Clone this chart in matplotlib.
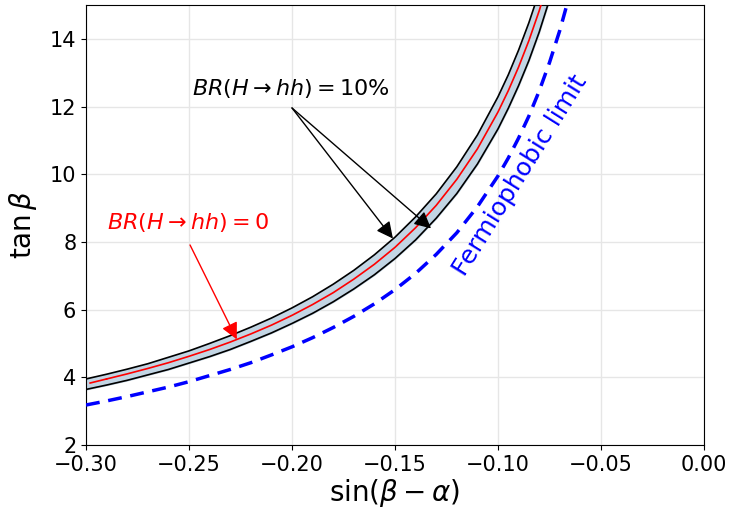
import matplotlib
matplotlib.use('Agg')
import numpy as np
import matplotlib.pyplot as plt

# values
sba = [-0.30, -0.29, -0.28, -0.27, -0.26, -0.25, -0.24, -0.23, -0.22, -0.21,
       -0.20, -0.19, -0.18, -0.17, -0.16, -0.15, -0.14, -0.13, -0.12, -0.11,
       -0.10, -0.095, -0.09, -0.085, -0.08, -0.075, -0.07]

br0 = [3.81, 3.95, 4.10, 4.26, 4.43, 4.62, 4.82, 5.04, 5.28, 5.54,
       5.83, 6.15, 6.50, 6.90, 7.34, 7.84, 8.42, 9.08, 9.85, 10.75,
       11.84, 12.47, 13.17, 13.95, 14.83, 15.82, 16.96]

br10_hi = [3.95, 4.09, 4.24, 4.40, 4.59, 4.78, 5.00, 5.23, 5.48, 5.75,
           6.05, 6.38, 6.75, 7.16, 7.62, 8.14, 8.74, 9.42, 10.22, 11.16,
           12.29, 12.94, 13.67, 14.48, 15.39, 16.42, 17.60]

br10_lo = [3.64, 3.77, 3.91, 4.07, 4.23, 4.42, 4.61, 4.82, 5.06, 5.31,
           5.59, 5.89, 6.23, 6.61, 7.03, 7.51, 8.06, 8.70, 9.43, 10.30,
           11.34, 11.95, 12.62, 13.36, 14.20, 15.16, 16.25]

sba_fp = [-0.30, -0.29, -0.28, -0.27, -0.26, -0.25, -0.24, -0.23, -0.22, -0.21,
          -0.20, -0.19, -0.18, -0.17, -0.16, -0.15, -0.14, -0.13, -0.12, -0.11,
          -0.10, -0.095, -0.09, -0.085, -0.08, -0.075, -0.07, -0.065, -0.06]
tb_fp = [3.18, 3.30, 3.43, 3.57, 3.71, 3.87, 4.05, 4.23, 4.43, 4.66,
         4.90, 5.17, 5.47, 5.80, 6.17, 6.59, 7.07, 7.63, 8.27, 9.04,
         9.95, 10.48, 11.07, 11.72, 12.46, 13.30, 14.25, 15.35, 16.64]

fig = plt.figure(figsize=(7.32, 5.12), dpi=100)
ax = fig.add_axes([0.1175, 0.131, 0.8442, 0.859])

ax.fill_between(sba, br10_lo, br10_hi, color='#c2d5e4', zorder=1)
ax.plot(sba, br10_hi, color='black', lw=1.2, zorder=2)
ax.plot(sba, br10_lo, color='black', lw=1.2, zorder=2)
ax.plot(sba[1:], br0[1:], color='red', lw=1.2, zorder=3)
ax.plot([-0.298] + sba[1:2], [3.83, br0[1]], color='red', lw=1.2, zorder=3)
ax.plot(sba_fp, tb_fp, color='blue', lw=2.5, ls=(0, (4, 2.5)), zorder=3)

# annotations
ax.text(-0.2005, 12.55, r'$BR(H\rightarrow hh) = 10\%$', fontsize=16,
        ha='center', va='center')
arr = dict(arrowstyle='-|>', color='black', lw=1.0, mutation_scale=25,
           shrinkA=0, shrinkB=0)
ax.annotate('', xy=(-0.151, 8.10), xytext=(-0.2, 11.96), arrowprops=arr)
ax.annotate('', xy=(-0.1325, 8.40), xytext=(-0.2, 11.96), arrowprops=arr)

ax.text(-0.2505, 8.56, r'$BR(H\rightarrow hh) = 0$', fontsize=16,
        color='red', ha='center', va='center')
arr_r = dict(arrowstyle='-|>', color='red', lw=1.0, mutation_scale=25,
             shrinkA=0, shrinkB=0)
ax.annotate('', xy=(-0.2268, 5.12), xytext=(-0.2495, 7.91), arrowprops=arr_r)

ax.text(-0.0893, 9.98, 'Fermiophobic limit', fontsize=18, color='blue',
        rotation=58, ha='center', va='center', rotation_mode='anchor')

ax.set_xlim(-0.3, 0.0)
ax.set_ylim(2, 15)
ax.set_xticks(np.arange(-0.30, 0.001, 0.05))
ax.set_yticks(np.arange(2, 15, 2))
ax.tick_params(labelsize=15)
ax.grid(True, color='#e6e6e6', lw=1.0, zorder=0)
ax.set_axisbelow(True)
ax.set_xlabel(r'$\sin(\beta-\alpha)$', fontsize=20, labelpad=2)
ax.set_ylabel(r'$\tan\beta$', fontsize=20, labelpad=8)

plt.savefig('out.png', dpi=100)
